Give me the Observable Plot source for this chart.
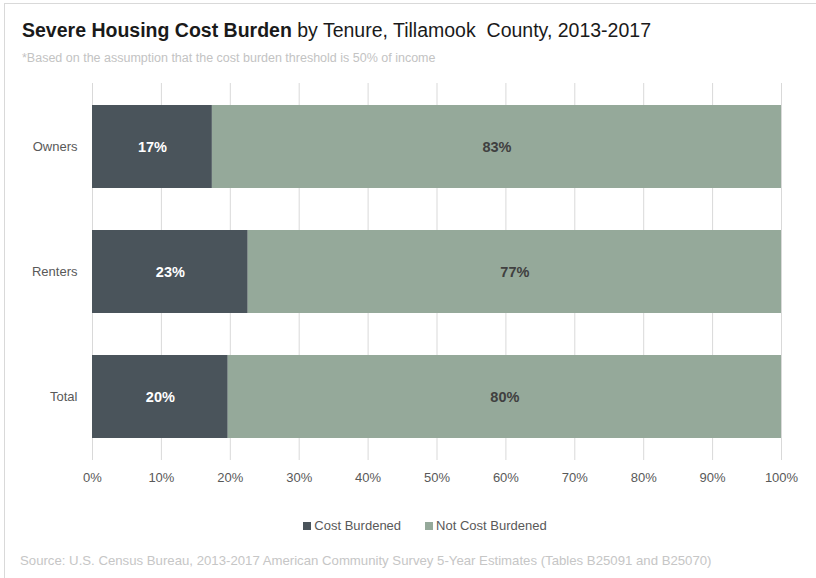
<!DOCTYPE html>
<html>
<head>
<meta charset="utf-8">
<script src="https://cdn.jsdelivr.net/npm/d3@7"></script>
<script src="https://cdn.jsdelivr.net/npm/@observablehq/plot@0.6"></script>
<style>
  html, body { margin: 0; padding: 0; background: #fff; overflow: hidden; width: 816px; height: 578px; }
  body { position: relative; font-family: "Liberation Sans", Arial, sans-serif; }
  #frame { position: absolute; left: 4px; top: 3px; width: 900px; height: 700px; border: 1px solid #d9d9d9; box-sizing: border-box; }
  #title { position: absolute; left: 22px; top: 19px; font-size: 19.5px; color: #1a1a1a; white-space: nowrap; }
  #subtitle { position: absolute; left: 22px; top: 51px; font-size: 12.5px; color: #c3c3c3; white-space: nowrap; }
  #chart { position: absolute; left: 0; top: 78px; }
  #legend { position: absolute; left: 0; width: 850px; top: 518px; text-align: center; font-size: 13px; color: #595959; }
  #legend span.item { margin: 0 12px; }
  #legend span.sw { display: inline-block; width: 8px; height: 8px; margin-right: 3px; vertical-align: 0px; }
  #source { position: absolute; left: 20px; top: 553px; font-size: 13.2px; color: #c6c6c6; white-space: nowrap; }
</style>
</head>
<body>
<div id="frame"></div>
<div id="title"><b>Severe Housing Cost Burden</b> by Tenure, Tillamook&nbsp; County, 2013-2017</div>
<div id="subtitle">*Based on the assumption that the cost burden threshold is 50% of income</div>
<div id="chart"></div>
<div id="legend"></div>
<div id="source">Source: U.S. Census Bureau, 2013-2017 American Community Survey 5-Year Estimates (Tables B25091 and B25070)</div>
<script>
const tenure = ["Owners", "Renters", "Total"];
const costBurdened = [17.4, 22.6, 19.7];
const notCostBurdened = [82.6, 77.4, 80.3];
const costBurdenedLabels = ["17%", "23%", "20%"];
const notCostBurdenedLabels = ["83%", "77%", "80%"];
const seriesNames = ["Cost Burdened", "Not Cost Burdened"];
const seriesColors = ["#4a545b", "#95a99a"];
const xTicks = [0, 10, 20, 30, 40, 50, 60, 70, 80, 90, 100];

const data = [];
tenure.forEach((t, i) => {
  data.push({tenure: t, series: seriesNames[0], value: costBurdened[i], label: costBurdenedLabels[i]});
  data.push({tenure: t, series: seriesNames[1], value: notCostBurdened[i], label: notCostBurdenedLabels[i]});
});

const font = '"Liberation Sans", Arial, sans-serif';
const chart = Plot.plot({
  width: 816,
  height: 412,
  marginTop: 5,
  marginBottom: 30,
  marginLeft: 92,
  marginRight: 35,
  style: {fontFamily: font, fontSize: "13px", color: "#595959", background: "transparent"},
  x: {domain: [0, 100], ticks: xTicks, tickFormat: d => d + "%", label: null},
  y: {domain: tenure, paddingInner: 0.332, paddingOuter: 0.165, label: null},
  color: {domain: seriesNames, range: seriesColors},
  marks: [
    Plot.gridX(xTicks, {stroke: "#d9d9d9", strokeOpacity: 1, strokeWidth: 1}),
    Plot.barX(data, Plot.stackX({x: "value", y: "tenure", fill: "series", z: "series"})),
    Plot.text(data, Plot.stackX({x: "value", y: "tenure", z: "series", text: d => d.series === seriesNames[0] ? d.label : "", fill: "white", fontWeight: "bold", fontSize: 14.5})),
    Plot.text(data, Plot.stackX({x: "value", y: "tenure", z: "series", text: d => d.series === seriesNames[1] ? d.label : "", fill: "#404040", fontWeight: "bold", fontSize: 14.5})),
    Plot.axisX(xTicks, {tickSize: 0, tickPadding: 12, fontSize: 13, fill: "#595959", tickFormat: d => d + "%", label: null}),
    Plot.axisY({tickSize: 0, tickPadding: 15, fontSize: 13, fill: "#595959", label: null})
  ]
});
document.getElementById("chart").appendChild(chart);

const legend = document.getElementById("legend");
const colorScale = chart.scale("color");
seriesNames.forEach((name, i) => {
  const item = document.createElement("span");
  item.className = "item";
  const sw = document.createElement("span");
  sw.className = "sw";
  sw.style.background = colorScale.range[i];
  item.appendChild(sw);
  item.appendChild(document.createTextNode(name));
  legend.appendChild(item);
});
</script>
</body>
</html>
